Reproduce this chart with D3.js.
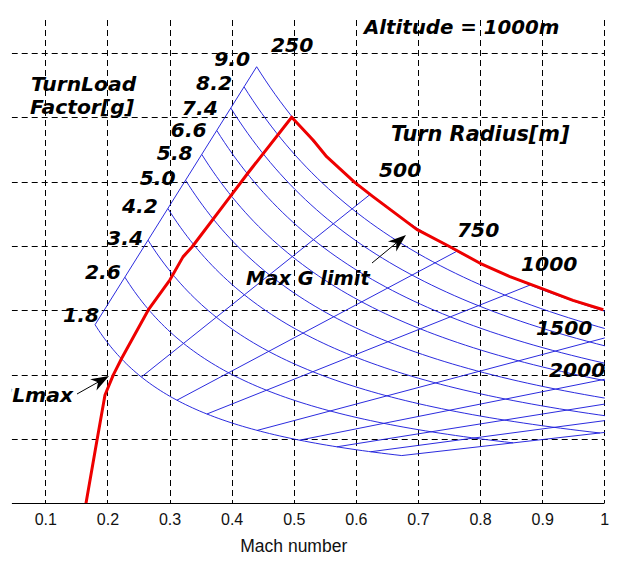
<!DOCTYPE html>
<html><head><meta charset="utf-8">
<script src="https://cdn.jsdelivr.net/npm/d3@7"></script>
<style>body{margin:0;background:#fff} svg{display:block}</style>
</head><body>
<svg id="chart" width="618" height="579"></svg>
<script>
// ---------------- data ----------------
const machTicks = [0.1, 0.2, 0.3, 0.4, 0.5, 0.6, 0.7, 0.8, 0.9, 1];
const machTickLabels = ["0.1", "0.2", "0.3", "0.4", "0.5", "0.6", "0.7", "0.8", "0.9", "1"];
const turnRateGrid = [5, 10, 15, 20, 25, 30, 35];          // deg/s, unlabelled
const loadFactors = [1.8, 2.6, 3.4, 4.2, 5.0, 5.8, 6.6, 7.4, 8.2, 9.0];
const loadFactorLabels = ["1.8", "2.6", "3.4", "4.2", "5.0", "5.8", "6.6", "7.4", "8.2", "9.0"];
const turnRadii = [250, 500, 750, 1000, 1500, 2000, 2500, 3000, 3500];   // m
const radiusLabels = ["250", "500", "750", "1000", "1500", "2000"];
// red boundary (CLmax limit, then Max G limit): Mach and turn rate [deg/s]
const boundaryMach = [0.1655, 0.1827, 0.1961, 0.2095, 0.223, 0.2658, 0.3007, 0.3217, 0.3362, 0.3973, 0.4263, 0.4967,
                      0.531, 0.553, 0.5986, 0.6276, 0.698, 0.7515, 0.80, 0.848, 0.8965, 0.9496, 0.9984];
const boundaryRate = [0, 4.77, 8.42, 9.98, 11.28, 15.03, 17.38, 19.16, 19.93, 23.82, 25.68, 30.02,
                      28.25, 26.95, 24.93, 23.84, 21.3, 19.95, 18.66, 17.62, 16.75, 15.78, 15.05];
const speedOfSound = 336.4;   // m/s at 1000 m
const gravity = 9.81;

// ---------------- layout ----------------
const W = 618, H = 579;
const x = d3.scaleLinear().domain([0, 1]).range([-16.8, 604.3]);
const y = d3.scaleLinear().domain([0, 37.5]).range([503.3, 21]);
const clipLeft = 11.7, clipTop = 20;
const nLabelNudge = [[4, -3], [-4, 2], [-5, 5], [-10, 4.5], [-10, 5], [-9, 6], [-10, 6.5], [-13, 7], [-12, 3], [-6.5, -0.5]];
const radiusLabelXY = [[271, 52], [379, 177], [457, 237], [521, 271], [536, 335], [549, 377]];
const italicFont = "'DejaVu Sans', Verdana, sans-serif";

const svg = d3.select("#chart");
const defs = svg.append("defs");
defs.append("clipPath").attr("id", "plotClip").append("rect")
  .attr("x", clipLeft).attr("y", clipTop).attr("width", x(1) - clipLeft + 0.5).attr("height", y(0) - clipTop);
defs.append("clipPath").attr("id", "pageClip").append("rect")
  .attr("x", clipLeft).attr("y", 0).attr("width", W - clipLeft).attr("height", H);

const root = svg.append("g").attr("clip-path", "url(#pageClip)");

// grid
const grid = root.append("g").attr("stroke", "#000").attr("stroke-width", 1).attr("stroke-dasharray", "6,4").attr("fill", "none");
grid.selectAll("line.v").data(machTicks).join("line")
  .attr("x1", d => Math.round(x(d)) + 0.5).attr("x2", d => Math.round(x(d)) + 0.5)
  .attr("y1", clipTop).attr("y2", y(0));
grid.selectAll("line.h").data(turnRateGrid).join("line")
  .attr("y1", d => Math.round(y(d)) + 0.5).attr("y2", d => Math.round(y(d)) + 0.5)
  .attr("x1", clipLeft).attr("x2", x(1));

// x axis
const axis = root.append("g").attr("transform", `translate(0,${Math.round(y(0)) + 0.5})`)
  .call(d3.axisBottom(x).tickValues(machTicks).tickFormat((d, i) => machTickLabels[i]).tickSize(0).tickPadding(10));
axis.select(".domain").attr("d", `M${clipLeft},0H${x(1)}`).attr("stroke", "#000");
axis.selectAll("text").attr("font-family", "'Liberation Sans', Arial, sans-serif").attr("font-size", 16).attr("fill", "#111");

root.append("text").attr("x", (x(0) + x(1)) / 2).attr("y", 552).attr("text-anchor", "middle")
  .attr("font-family", "'Liberation Sans', Arial, sans-serif").attr("font-size", 17.5).attr("fill", "#111")
  .text("Mach number");

// mesh of constant load factor / constant turn radius
function meshPoint(n, R) {
  const k = Math.sqrt(n * n - 1);
  const V = Math.sqrt(R * gravity * k);
  return { M: V / speedOfSound, w: V / R * 180 / Math.PI };
}
const mesh = root.append("g").attr("clip-path", "url(#plotClip)");
const line = d3.line().x(p => x(p.M)).y(p => y(p.w));
const rMin = d3.min(turnRadii), rMax = d3.max(turnRadii);
loadFactors.forEach(n => {
  const pts = d3.range(0, 81).map(i => meshPoint(n, rMin * Math.pow(rMax / rMin, i / 80)));
  mesh.append("path").attr("d", line(pts)).attr("fill", "none").attr("stroke", "#2020dc").attr("stroke-width", 0.95);
});
turnRadii.forEach(R => {
  const pts = loadFactors.map(n => meshPoint(n, R));
  mesh.append("path").attr("d", line(pts)).attr("fill", "none").attr("stroke", "#2020dc").attr("stroke-width", 0.95);
});

// red boundary
const bpts = boundaryMach.map((m, i) => ({ M: m, w: boundaryRate[i] }));
mesh.append("path").attr("d", line(bpts)).attr("fill", "none")
  .attr("stroke", "#ee0000").attr("stroke-width", 3).attr("stroke-linejoin", "round");

// labels
const lab = root.append("g").attr("font-family", italicFont).attr("font-weight", "bold")
  .attr("font-style", "italic").attr("font-size", 20.3).attr("fill", "#000");
loadFactors.forEach((n, i) => {
  const p = meshPoint(n, rMin);
  lab.append("text").attr("x", x(p.M) + nLabelNudge[i][0]).attr("y", y(p.w) + nLabelNudge[i][1])
    .attr("text-anchor", "end").text(loadFactorLabels[i]);
});
radiusLabels.forEach((t, i) => {
  lab.append("text").attr("x", radiusLabelXY[i][0]).attr("y", radiusLabelXY[i][1]).text(t);
});
lab.append("text").attr("x", 364).attr("y", 34).attr("font-size", 19.8).text("Altitude = 1000m");
lab.append("text").attr("x", 31).attr("y", 91).text("TurnLoad");
lab.append("text").attr("x", 30).attr("y", 114).text("Factor[g]");
lab.append("text").attr("x", 391).attr("y", 141).attr("font-size", 20.8).text("Turn Radius[m]");
lab.append("text").attr("x", 246).attr("y", 285).attr("font-size", 19.4).text("Max G limit");
lab.append("text").attr("x", 73).attr("y", 402).attr("text-anchor", "end").text("CLmax");

// arrows
function arrow(x1, y1, x2, y2) {
  const g = root.append("g");
  const a = Math.atan2(y2 - y1, x2 - x1);
  const L = 18, Wd = 6.5;
  g.append("line").attr("x1", x1).attr("y1", y1)
    .attr("x2", x2 - L * 0.7 * Math.cos(a)).attr("y2", y2 - L * 0.7 * Math.sin(a))
    .attr("stroke", "#000").attr("stroke-width", 1);
  g.append("path").attr("d", `M0,0L${-L},${-Wd}L${-L * 0.7},0L${-L},${Wd}Z`)
    .attr("transform", `translate(${x2},${y2}) rotate(${a * 180 / Math.PI})`).attr("fill", "#000");
}
arrow(77, 394, 109, 376);
arrow(372, 263, 406, 235);
</script>
</body></html>
